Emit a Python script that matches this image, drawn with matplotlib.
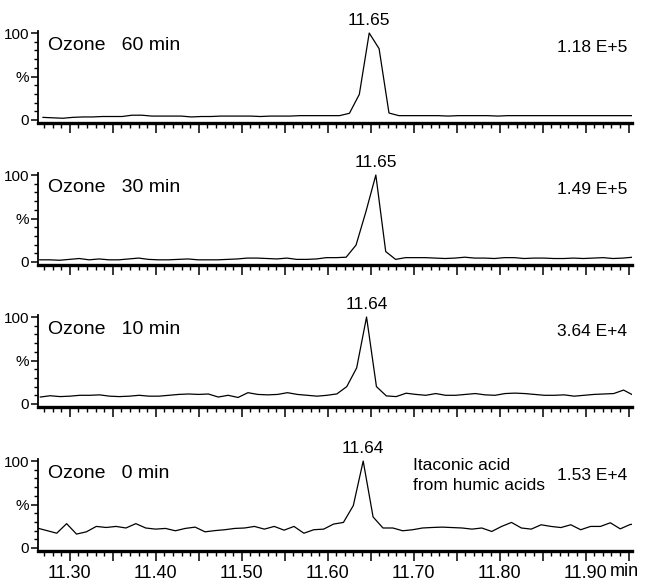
import numpy as np
import matplotlib
matplotlib.use("Agg")
import matplotlib.pyplot as plt
from matplotlib.ticker import MultipleLocator, FuncFormatter

plt.rcParams['font.family'] = ['Liberation Sans', 'DejaVu Sans']

# ---- data ----
panel_titles = ["Ozone   60 min", "Ozone   30 min", "Ozone   10 min", "Ozone   0 min"]
peak_labels = ["11.65", "11.65", "11.64", "11.64"]
intensities = ["1.18 E+5", "1.49 E+5", "3.64 E+4", "1.53 E+4"]
scan_start = [11.2688, 11.2650, 11.2657, 11.2618]   # retention time of first scan (min)
scan_step = 0.0115                                   # min between scans
peak_index = [33, 34, 33, 33]

sig_60 = [3, 2.5, 2, 3, 3.5, 3.5, 4, 4, 4, 5.5, 5.5, 4.5, 4.5, 4.5, 4.5, 3.5, 4, 4,
          4.5, 4.5, 4.5, 4.5, 4, 4.5, 4.5, 4.5, 5, 5, 5, 5, 5, 7.7, 29.5, 100, 82, 8,
          5, 5, 5, 5, 5, 4.5, 5, 5, 5, 5, 4.5, 5, 5, 5, 5, 5, 5, 5, 5, 5, 5, 5, 5, 5, 5, 5]
sig_30 = [2.5, 2.5, 2, 3, 4, 2.5, 3.5, 2.5, 2.5, 3.5, 4.5, 3, 2.5, 2.5, 3, 3.5, 2.5, 2.5,
          2.5, 3, 3.5, 4.5, 4.5, 4, 3.5, 4.5, 3, 3, 3.5, 5, 5, 5.5, 19.5, 58, 100, 12,
          3, 5, 5, 5, 4.5, 4, 4.5, 5.5, 4.5, 4.5, 4, 5, 5, 4, 4.5, 4.5, 4, 4, 4.5, 4,
          4.5, 5, 4, 4.5, 5.5, 5]
sig_10 = [8, 9.5, 8.5, 9, 10, 10, 10.5, 9, 8.5, 9, 10, 9, 9, 10, 11, 11.5, 11, 11.5,
          8, 10, 7.5, 13, 11, 10.5, 11, 13, 11, 10, 9, 10, 11.6, 20, 41.5, 100, 20, 9.3,
          8.5, 12.4, 11, 10, 12, 10, 10, 11, 12, 10.5, 10, 12, 12.5, 12, 11, 10, 10,
          10.5, 9, 10, 11, 11.5, 12, 16, 10, 12]
sig_0 = [23, 20, 17, 28, 16, 18.6, 24.8, 23.6, 24.8, 23, 28, 23, 21.7, 22.5, 19.8, 22.5,
         24, 18.6, 20, 21, 22.5, 23, 24.8, 21.7, 24.8, 20.5, 24.8, 17, 21, 21.7, 27.5,
         29.4, 48.8, 100, 35.7, 23, 23, 19.8, 21, 23, 23.6, 24, 23.5, 23, 21.7, 23, 19,
         24.8, 29.4, 23, 21.7, 26.7, 24.8, 23.5, 26.7, 21, 24.8, 24.8, 29, 22, 27, 28]
signals = [sig_60, sig_30, sig_10, sig_0]

x_limits = (11.263, 11.954)
x_tick_values = [11.30, 11.40, 11.50, 11.60, 11.70, 11.80, 11.90]

# ---- layout ----
fig = plt.figure(figsize=(6.46, 5.86), dpi=100)
left = 38 / 646
width = 594 / 646
bottoms = [1 - 122.6 / 586, 1 - 264.6 / 586, 1 - 406.6 / 586, 1 - 550.6 / 586]
height = 91.3 / 586

for k in range(4):
    ax = fig.add_axes([left, bottoms[k], width, height])
    y = np.array(signals[k], dtype=float)
    t = scan_start[k] + scan_step * np.arange(len(y))
    ax.plot(t, y, color='black', lw=0.9)
    ax.set_xlim(*x_limits)
    ax.set_ylim(-3, 102)

    for s in ['top', 'right']:
        ax.spines[s].set_visible(False)
    ax.spines['bottom'].set_linewidth(2.4)
    ax.spines['left'].set_linewidth(1.3)

    ax.xaxis.set_major_locator(MultipleLocator(0.05))
    ax.xaxis.set_minor_locator(MultipleLocator(0.01))
    ax.yaxis.set_major_locator(MultipleLocator(50))
    ax.yaxis.set_minor_locator(MultipleLocator(10))
    ax.tick_params(axis='x', which='major', direction='out', length=7, width=1.1, pad=3.5)
    ax.tick_params(axis='x', which='minor', direction='out', length=3.5, width=1.0)
    ax.tick_params(axis='y', which='major', direction='out', length=5, width=1.1, pad=1.5)
    ax.tick_params(axis='y', which='minor', direction='out', length=3, width=1.0)

    ax.yaxis.set_major_formatter(FuncFormatter(
        lambda v, p: {0: "0", 50: "%", 100: "100"}.get(int(round(v)), "")))
    for lab in ax.get_yticklabels():
        lab.set_fontfamily(['Liberation Sans Narrow', 'Liberation Sans', 'DejaVu Sans'])
        lab.set_fontsize(11)

    if k == 3:
        def xfmt(v, p):
            for tv in x_tick_values:
                if abs(v - tv) < 1e-4:
                    return f"{tv:.2f}"
            return ""
        ax.xaxis.set_major_formatter(FuncFormatter(xfmt))
        for lab in ax.get_xticklabels():
            lab.set_fontsize(13)
        ax.text(0.962, -0.225, "min", transform=ax.transAxes, fontsize=13,
                ha='left', va='center')
    else:
        ax.set_xticklabels([])

    ax.text(0.0168, 0.80, panel_titles[k], transform=ax.transAxes, fontsize=14,
            ha='left', va='baseline')
    ax.text(0.9916, 0.77, intensities[k], transform=ax.transAxes, fontsize=12.5,
            ha='right', va='baseline')
    pk = peak_index[k]
    ax.annotate(peak_labels[k], xy=(t[pk], y[pk]), xytext=(0, 3.5),
                textcoords='offset points', ha='center', va='bottom', fontsize=12.5,
                annotation_clip=False)
    if k == 3:
        ax.text(0.6313, 0.664, "Itaconic acid\nfrom humic acids", transform=ax.transAxes,
                fontsize=12.5, ha='left', va='baseline', linespacing=1.45)

fig.savefig("out.png", dpi=100)
